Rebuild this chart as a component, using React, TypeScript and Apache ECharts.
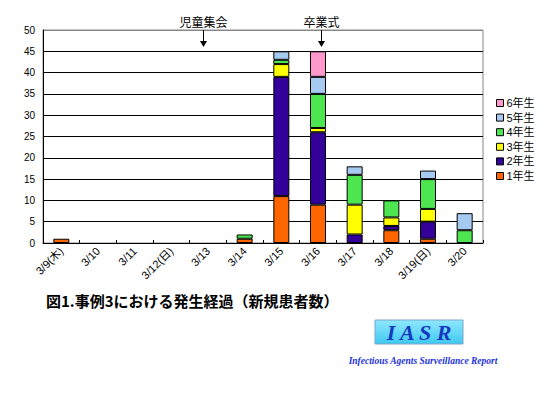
import React, { useEffect, useRef } from "react";
import * as echarts from "echarts";

const categories = ["3/9(木)", "3/10", "3/11", "3/12(日)", "3/13", "3/14", "3/15", "3/16", "3/17", "3/18", "3/19(日)", "3/20"];
const grade1 = [1, 0, 0, 0, 0, 1, 11, 9, 0, 3, 1, 0];
const grade2 = [0, 0, 0, 0, 0, 0, 28, 17, 2, 1, 4, 0];
const grade3 = [0, 0, 0, 0, 0, 0, 3, 1, 7, 2, 3, 0];
const grade4 = [0, 0, 0, 0, 0, 1, 1, 8, 7, 4, 7, 3];
const grade5 = [0, 0, 0, 0, 0, 0, 2, 4, 2, 0, 2, 4];
const grade6 = [0, 0, 0, 0, 0, 0, 0, 6, 0, 0, 0, 0];
const seriesNames = ["1年生", "2年生", "3年生", "4年生", "5年生", "6年生"];
const seriesColors = ["#FF6600", "#330099", "#FFFF00", "#4DE651", "#A6CAF0", "#FF99CC"];
const events = [
  { day: "3/13", label: "児童集会", dx: -5 },
  { day: "3/16", label: "卒業式", dx: 3 },
];

const FONT = "'Liberation Sans', 'Noto Sans CJK JP', sans-serif";

export default function App() {
  const ref = useRef<HTMLDivElement>(null);
  useEffect(() => {
    if (!ref.current) return;
    const chart = echarts.init(ref.current, undefined, { renderer: "svg" });
    const values = [grade1, grade2, grade3, grade4, grade5, grade6];
    const splitColors = Array.from({ length: 11 }, (_, i) => (i === 10 ? "#888888" : "#000000"));
    chart.setOption({
      animation: false,
      backgroundColor: "#ffffff",
      textStyle: { fontFamily: FONT },
      grid: { left: 43, right: 73, top: 30, bottom: 151, show: true, borderColor: "#888888", borderWidth: 1 },
      legend: {
        orient: "vertical",
        left: 496,
        top: 97,
        padding: 0,
        itemWidth: 7,
        itemHeight: 7,
        itemGap: 2.6,
        icon: "rect",
        data: ["6年生", "5年生", "4年生", "3年生", "2年生", "1年生"],
        itemStyle: { borderColor: "#000", borderWidth: 1 },
        textStyle: { fontSize: 11, lineHeight: 12, color: "#000", fontFamily: FONT, padding: [0, 0, 0, -2] },
      },
      xAxis: {
        type: "category",
        data: categories,
        axisLine: { lineStyle: { color: "#000", width: 1 } },
        axisTick: { show: true, inside: true, length: 3, lineStyle: { color: "#000" } },
        axisLabel: { rotate: 45, fontSize: 11, color: "#000", margin: 6, interval: 0, fontFamily: FONT },
      },
      yAxis: {
        type: "value",
        min: 0,
        max: 50,
        interval: 5,
        axisLine: { show: true, lineStyle: { color: "#000", width: 1 } },
        axisTick: { show: false },
        axisLabel: { fontSize: 10, color: "#000", margin: 8, fontFamily: FONT },
        splitLine: { show: true, lineStyle: { color: splitColors, width: 1 } },
      },
      series: seriesNames.map((name, i) => ({
        name,
        type: "bar",
        stack: "total",
        data: values[i].map((v) => (v === 0 ? "-" : v)),
        barWidth: 16,
        itemStyle: { color: seriesColors[i], borderColor: "#000", borderWidth: 1 },
      })),
    });

    const graphics: any[] = [];
    events.forEach((ev) => {
      const px = chart.convertToPixel({ xAxisIndex: 0 }, ev.day) as number;
      const x = Math.round(px + ev.dx) + 0.5;
      graphics.push(
        { type: "line", shape: { x1: x, y1: 30, x2: x, y2: 42 }, style: { stroke: "#000", lineWidth: 1 } },
        { type: "polygon", shape: { points: [[x - 3.5, 41], [x + 3.5, 41], [x, 47]] }, style: { fill: "#000" } },
        {
          type: "text",
          x,
          y: 23,
          style: { text: ev.label, fontSize: 12, fontFamily: FONT, fill: "#000", align: "center", verticalAlign: "middle" },
        }
      );
    });
    graphics.push(
      {
        type: "text",
        left: 46,
        top: 293,
        style: { text: "図1.事例3における発生経過（新規患者数）", fontSize: 15, fontWeight: "bold", fontFamily: "'Noto Sans CJK JP', sans-serif", fill: "#000" },
      },
      {
        type: "rect",
        shape: { x: 375, y: 320, width: 88, height: 24 },
        style: {
          fill: new echarts.graphic.LinearGradient(0, 0, 0, 1, [
            { offset: 0, color: "#8FE8FF" },
            { offset: 1, color: "#3FC8F0" },
          ]),
          stroke: "#7AA6C8",
          lineWidth: 1,
        },
      },
      {
        type: "text",
        x: 419,
        y: 332,
        style: { text: "I A S R", fontSize: 22, fontWeight: "bold", fontStyle: "italic", fontFamily: "'Liberation Serif', serif", fill: "#1538C0", align: "center", verticalAlign: "middle" },
      },
      {
        type: "text",
        x: 423,
        y: 361,
        style: { text: "Infectious Agents Surveillance Report", fontSize: 9.5, fontWeight: "bold", fontStyle: "italic", fontFamily: "'Liberation Serif', serif", fill: "#2233DD", align: "center", verticalAlign: "middle" },
      }
    );
    chart.setOption({ graphic: graphics });
    return () => chart.dispose();
  }, []);
  return <div ref={ref} style={{ position: "absolute", left: 0, top: 0, width: 556, height: 394 }} />;
}
